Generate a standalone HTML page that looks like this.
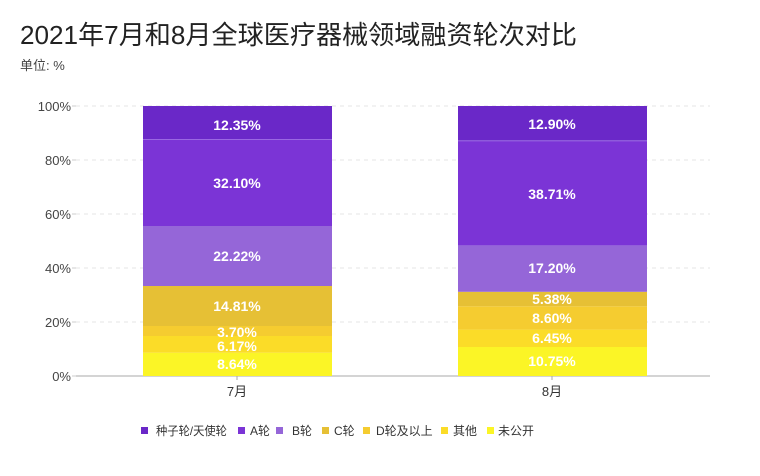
<!DOCTYPE html>
<html><head><meta charset="utf-8"><style>
body{margin:0;width:760px;height:476px;background:#fff;overflow:hidden}
svg{display:block}
.t{font-family:"Liberation Sans","Noto Sans CJK SC",sans-serif}
.v{font-family:"Liberation Sans",sans-serif;font-weight:bold;font-size:14px;fill:#fff;text-anchor:middle}
.ax{font-family:"Liberation Sans",sans-serif;font-size:13px;fill:#444;text-anchor:end}
</style></head><body>
<svg width="760" height="476" viewBox="0 0 760 476">
<text class="t" x="20" y="44" font-size="26" fill="#222" textLength="557" lengthAdjust="spacingAndGlyphs">2021年7月和8月全球医疗器械领域融资轮次对比</text>
<text class="t" x="20" y="70" font-size="13" fill="#444">单位: %</text>
<g stroke="#e4e4e4" stroke-dasharray="4,4">
<line x1="76" y1="106" x2="710" y2="106"/><line x1="76" y1="160" x2="710" y2="160"/>
<line x1="76" y1="214" x2="710" y2="214"/><line x1="76" y1="268" x2="710" y2="268"/>
<line x1="76" y1="322" x2="710" y2="322"/></g>
<line x1="76" y1="376" x2="710" y2="376" stroke="#aaa"/>
<line x1="237" y1="376" x2="237" y2="380" stroke="#aaa"/><line x1="552" y1="376" x2="552" y2="380" stroke="#aaa"/>
<g stroke="#ccc"><line x1="72" y1="106" x2="76" y2="106"/><line x1="72" y1="160" x2="76" y2="160"/><line x1="72" y1="214" x2="76" y2="214"/><line x1="72" y1="268" x2="76" y2="268"/><line x1="72" y1="322" x2="76" y2="322"/><line x1="72" y1="376" x2="76" y2="376"/></g>
<text class="ax" x="71" y="111">100%</text><text class="ax" x="71" y="165">80%</text><text class="ax" x="71" y="219">60%</text><text class="ax" x="71" y="273">40%</text><text class="ax" x="71" y="327">20%</text><text class="ax" x="71" y="381">0%</text>
<!-- 7月 -->
<rect x="143" y="352.7" width="189" height="23.3" fill="#fbf526"/>
<rect x="143" y="336" width="189" height="16.7" fill="#fbdc28"/>
<rect x="143" y="326" width="189" height="10" fill="#f5cc30"/>
<rect x="143" y="286" width="189" height="40" fill="#e6c035"/>
<rect x="143" y="226" width="189" height="60" fill="#9566d8"/>
<rect x="143" y="139.4" width="189" height="86.6" fill="#7b34d6"/>
<rect x="143" y="106" width="189" height="33.4" fill="#6a28c8"/>
<line x1="143" y1="139.4" x2="332" y2="139.4" stroke="#a57ae6" stroke-width="0.8"/>
<text class="v" x="237" y="369">8.64%</text><text class="v" x="237" y="351">6.17%</text><text class="v" x="237" y="337">3.70%</text><text class="v" x="237" y="311">14.81%</text><text class="v" x="237" y="261">22.22%</text><text class="v" x="237" y="188">32.10%</text><text class="v" x="237" y="130">12.35%</text>
<!-- 8月 -->
<rect x="458" y="347" width="189" height="29" fill="#fbf526"/>
<rect x="458" y="329.6" width="189" height="17.4" fill="#fbdc28"/>
<rect x="458" y="306.3" width="189" height="23.3" fill="#f5cc30"/>
<rect x="458" y="291.8" width="189" height="14.5" fill="#e6c035"/>
<rect x="458" y="245.4" width="189" height="46.4" fill="#9566d8"/>
<rect x="458" y="140.8" width="189" height="104.6" fill="#7b34d6"/>
<rect x="458" y="106" width="189" height="34.8" fill="#6a28c8"/>
<line x1="458" y1="140.8" x2="647" y2="140.8" stroke="#a57ae6" stroke-width="0.8"/>
<text class="v" x="552" y="366">10.75%</text><text class="v" x="552" y="343">6.45%</text><text class="v" x="552" y="323">8.60%</text><text class="v" x="552" y="304">5.38%</text><text class="v" x="552" y="273">17.20%</text><text class="v" x="552" y="199">38.71%</text><text class="v" x="552" y="129">12.90%</text>
<text class="t" x="237" y="396" font-size="13" fill="#333" text-anchor="middle">7月</text>
<text class="t" x="552" y="396" font-size="13" fill="#333" text-anchor="middle">8月</text>
<!-- legend -->
<g class="t" font-size="12" fill="#333">
<rect x="141" y="427" width="7" height="7" fill="#6a28c8"/><text x="156" y="435" textLength="71" lengthAdjust="spacingAndGlyphs">种子轮/天使轮</text>
<rect x="238" y="427" width="7" height="7" fill="#7b34d6"/><text x="250" y="435">A轮</text>
<rect x="276" y="427" width="7" height="7" fill="#9566d8"/><text x="292" y="435">B轮</text>
<rect x="322" y="427" width="7" height="7" fill="#e6c035"/><text x="334" y="435">C轮</text>
<rect x="363" y="427" width="7" height="7" fill="#f5cc30"/><text x="376" y="435">D轮及以上</text>
<rect x="441" y="427" width="7" height="7" fill="#fbdc28"/><text x="453" y="435">其他</text>
<rect x="487" y="427" width="7" height="7" fill="#fbf526"/><text x="498" y="435">未公开</text>
</g>
</svg>
</body></html>
